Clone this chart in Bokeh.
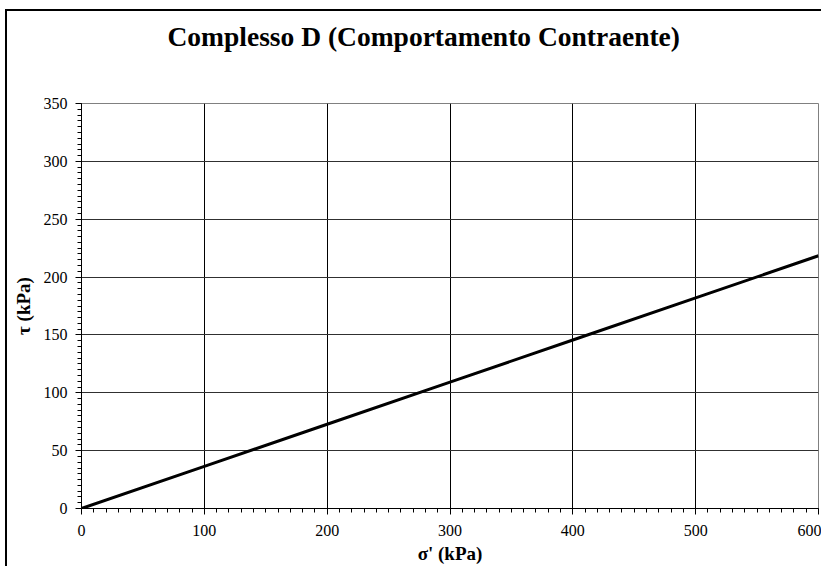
from bokeh.plotting import figure
from bokeh.models import Range1d, SingleIntervalTicker, Title
from bokeh.embed import file_html
from bokeh.resources import INLINE

# data
sigma = [0, 100, 200, 300, 400, 500, 600]
tau = [0, 36.4, 72.8, 109.2, 145.6, 182.0, 218.4]

title_text = "Complesso D (Comportamento Contraente)"
x_label = "σ' (kPa)"
y_label = "τ (kPa)"

FONT = "Liberation Serif"

p = figure(width=816, height=557, output_backend="svg", toolbar_location=None,
           x_range=Range1d(0, 600), y_range=Range1d(0, 350),
           min_border_left=74, min_border_right=5, min_border_top=92,
           min_border_bottom=60)

p.title = None
# spacer between plot frame and title
p.add_layout(Title(text=" ", text_font_size="10px", standoff=32), "above")
p.add_layout(Title(text=title_text, align="left", text_font=FONT,
                   text_font_size="27.5px", text_font_style="bold",
                   text_color="black", standoff=14, offset=86), "above")

p.line(sigma, tau, line_color="black", line_width=3)

p.xaxis.ticker = SingleIntervalTicker(interval=100, num_minor_ticks=10)
p.yaxis.ticker = SingleIntervalTicker(interval=50, num_minor_ticks=10)

for ax in (p.xaxis[0], p.yaxis[0]):
    ax.axis_line_color = "black"
    ax.major_tick_line_color = "black"
    ax.minor_tick_line_color = "black"
    ax.major_tick_in = 0
    ax.major_tick_out = 6
    ax.minor_tick_in = 0
    ax.minor_tick_out = 4
    ax.major_label_text_font = FONT
    ax.major_label_text_font_size = "16px"
    ax.major_label_text_color = "black"
    ax.axis_label_text_font = FONT
    ax.axis_label_text_font_size = "19px"
    ax.axis_label_text_font_style = "bold"
    ax.axis_label_text_color = "black"

p.xaxis.axis_label = x_label
p.yaxis.axis_label = y_label
p.xaxis.major_label_standoff = 10
p.yaxis.major_label_standoff = 8
p.xaxis.axis_label_standoff = 4
p.yaxis.axis_label_standoff = 7

p.xgrid.grid_line_color = "black"
p.ygrid.grid_line_color = "#303030"
p.xgrid.grid_line_width = 1
p.ygrid.grid_line_width = 1
p.outline_line_color = "#808080"
p.background_fill_color = "white"
p.border_fill_color = "white"
p.styles = {"border-left": "2px solid black", "border-top": "2px solid black",
            "margin-left": "5px", "margin-top": "9px"}

open("out.html", "w").write(file_html(p, INLINE))
